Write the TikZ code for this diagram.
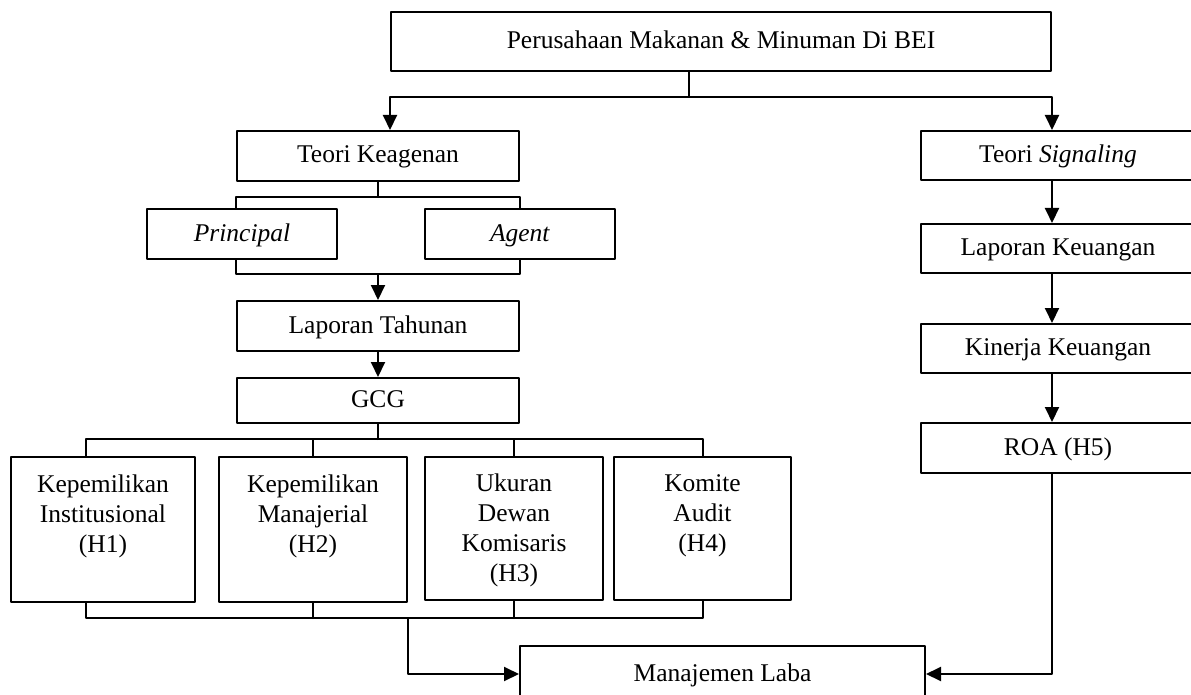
\documentclass[tikz,border=0pt]{standalone}
\usepackage{fontspec}
\setmainfont{Liberation Serif}
\usetikzlibrary{arrows.meta}

\newcommand{\hyptext}[1]{\parbox[c][138pt][t]{170pt}{\centering\rule{0pt}{32pt}#1}}

\begin{document}
\begin{tikzpicture}[x=1pt, y=-1pt, line cap=round, line join=round, >={Triangle[length=15pt,width=14pt]},
	every node/.style={font=\fontsize{25.5}{30}\selectfont},
	box/.style={draw, rectangle, line width=2pt, inner sep=0pt, text height=19pt, text depth=5pt},
	hyp/.style={draw, rectangle, line width=2pt, inner sep=0pt},
	link/.style={line width=2pt}]
			\useasboundingbox (0,0) rectangle (1191,695);
			\clip (0,0) rectangle (1191,695);
			% boxes
			\node[box, minimum width=660pt, minimum height=59pt] (perusahaan) at (721,41.5) {Perusahaan Makanan \& Minuman Di BEI};
			\node[box, minimum width=282pt, minimum height=50pt] (keagenan) at (378,156) {Teori Keagenan};
			\node[box, minimum width=274pt, minimum height=49pt] (signaling) at (1058,155.5) {Teori \textit{Signaling}};
			\node[box, minimum width=190pt, minimum height=50pt] (principal) at (242,234) {\textit{Principal}};
			\node[box, minimum width=190pt, minimum height=50pt] (agent) at (520,234) {\textit{Agent}};
			\node[box, minimum width=282pt, minimum height=50pt] (tahunan) at (378,326) {Laporan Tahunan};
			\node[box, minimum width=282pt, minimum height=45pt] (gcg) at (378,400.5) {GCG};
			\node[box, minimum width=274pt, minimum height=49pt] (lapkeu) at (1058,248.5) {Laporan Keuangan};
			\node[box, minimum width=274pt, minimum height=49pt] (kinerja) at (1058,348.5) {Kinerja Keuangan};
			\node[box, minimum width=274pt, minimum height=50pt] (roa) at (1058,448) {ROA (H5)};
			\node[hyp, minimum width=184pt, minimum height=145pt] (h1) at (103,529.5) {\hyptext{Kepemilikan\\Institusional\\(H1)}};
			\node[hyp, minimum width=188pt, minimum height=145pt] (h2) at (313,529.5) {\hyptext{Kepemilikan\\Manajerial\\(H2)}};
			\node[hyp, minimum width=178pt, minimum height=143pt] (h3) at (514,528.5) {\hyptext{Ukuran\\Dewan\\Komisaris\\(H3)}};
			\node[hyp, minimum width=177pt, minimum height=143pt] (h4) at (702.5,528.5) {\hyptext{Komite\\Audit\\(H4)}};
			\node[box, minimum width=405pt, minimum height=56pt] (laba) at (722.5,674) {Manajemen Laba};
			% junctions
			\coordinate (split) at (689,97);
			\coordinate (topbus) at (0,439);
			\coordinate (botbus) at (0,618);
			\coordinate (s1) at (86,0);
			% top split
			\draw[link] (perusahaan.south -| split) -- (split);
			\draw[link, ->] (split) -| (perusahaan.west |- keagenan.north);
			\draw[link, ->] (split) -| (perusahaan.east |- signaling.north);
			% signaling chain
			\draw[link, ->] (perusahaan.east |- signaling.south) -- (perusahaan.east |- lapkeu.north);
			\draw[link, ->] (perusahaan.east |- lapkeu.south) -- (perusahaan.east |- kinerja.north);
			\draw[link, ->] (perusahaan.east |- kinerja.south) -- (perusahaan.east |- roa.north);
			\draw[link, ->] (perusahaan.east |- roa.south) |- (laba.east);
			% agency branch
			\draw[link] (keagenan.south) -- ++(0,15) coordinate (kb);
			\draw[link] (keagenan.west |- principal.north) |- (keagenan.east |- kb) -- (keagenan.east |- agent.north);
			\draw[link] (keagenan.west |- principal.south) -- ++(0,14) coordinate (pb) -- (keagenan.east |- pb) -- (keagenan.east |- agent.south);
			\draw[link, ->] (keagenan.south |- pb) -- (tahunan.north);
			\draw[link, ->] (tahunan) -- (gcg);
			% GCG bus
			\draw[link] (gcg.south) -- (gcg.south |- topbus);
			\draw[link] (s1 |- h1.north) |- (h4.north |- topbus) -- (h4.north);
			\foreach \n in {h2,h3}
				\draw[link] (\n.north) -- (\n.north |- topbus);
			\draw[link] (s1 |- h1.south) |- (h4.south |- botbus) -- (h4.south);
			\foreach \n in {h2,h3}
				\draw[link] (\n.south) -- (\n.south |- botbus);
			\draw[link, ->] (h2.south east |- botbus) |- (laba.west);
		\end{tikzpicture}
\end{document}
